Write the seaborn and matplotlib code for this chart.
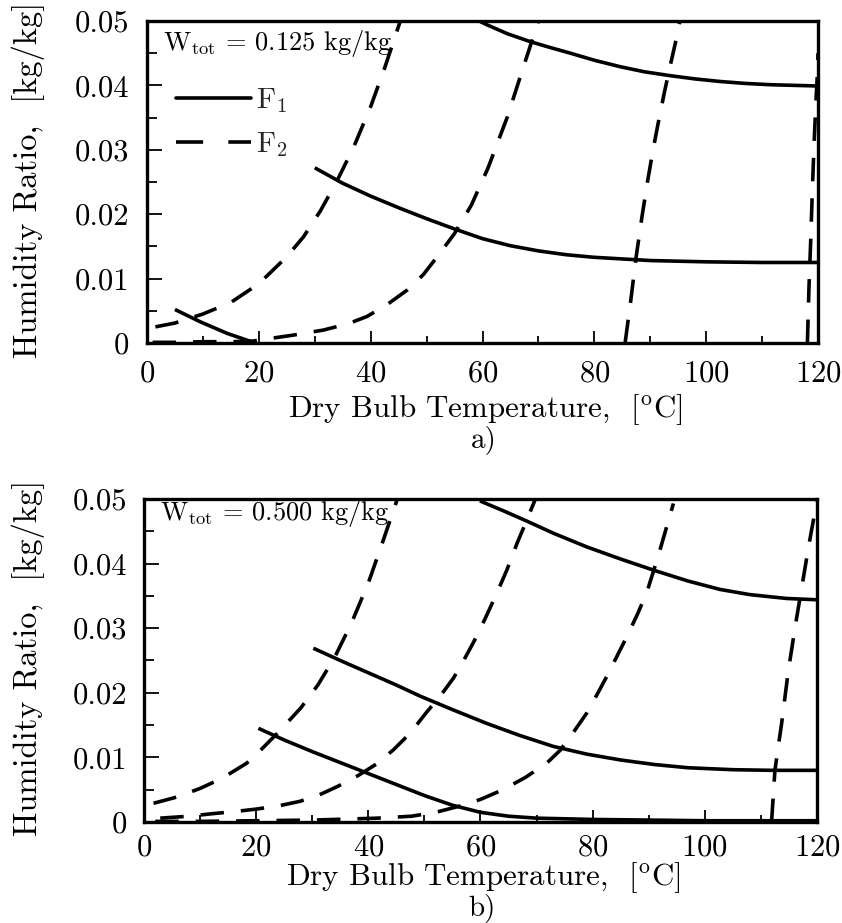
import numpy as np
import pandas as pd
import matplotlib
matplotlib.use("Agg")
import matplotlib.pyplot as plt
from matplotlib.ticker import MultipleLocator, FuncFormatter
from matplotlib.lines import Line2D
import seaborn as sns

# ---------------- data ----------------
# Panel a) W_tot = 0.125 kg/kg
a_f1_1_x = [5, 9.5, 14.3, 19]
a_f1_1_y = [0.0052, 0.0033, 0.0015, 0.0001]
a_f1_2_x = [30, 35, 40, 45, 50, 55, 60, 65, 70, 75, 80, 90, 100, 110, 120]
a_f1_2_y = [0.0272, 0.0248, 0.0228, 0.0210, 0.0193, 0.0177, 0.0162, 0.0151,
            0.0143, 0.0137, 0.0133, 0.0128, 0.0126, 0.0125, 0.0125]
a_f1_3_x = [59.6, 60.8, 64.5, 68.5, 72, 75.7, 80, 84.6, 89, 93.6, 98, 102.5,
            107, 111.5, 120]
a_f1_3_y = [0.0499, 0.0494, 0.0480, 0.0468, 0.0459, 0.0450, 0.0439, 0.0429,
            0.0421, 0.0415, 0.0410, 0.0406, 0.0403, 0.0401, 0.0399]

a_f2_1_x = [1.5, 5, 10, 15, 20, 25, 28, 31, 34, 37, 40, 42.5, 45.3]
a_f2_1_y = [0.0025, 0.0031, 0.0045, 0.0063, 0.0092, 0.0134, 0.0165, 0.0205,
            0.0252, 0.0305, 0.0367, 0.0427, 0.0500]
a_f2_2_x = [1, 5, 10, 15, 19, 22, 26, 31.5, 36, 39.3, 43, 46.5, 49.4, 52, 55,
            58, 61, 64.4, 67, 70]
a_f2_2_y = [0.0001, 0.0001, 0.0002, 0.0002, 0.0003, 0.0007, 0.0012, 0.0020,
            0.0030, 0.0041, 0.0060, 0.0082, 0.0106, 0.0135, 0.0170, 0.0214,
            0.0272, 0.0350, 0.0420, 0.0500]
a_f2_3_x = [85.5, 86.5, 87.5, 88.5, 89.5, 90.5, 91.5, 92.5, 93.5, 94.5, 95.3]
a_f2_3_y = [0.0, 0.0065, 0.0135, 0.0195, 0.0250, 0.0300, 0.0345, 0.0388,
            0.0428, 0.0466, 0.0500]
a_f2_4_x = [118.1, 118.4, 118.7, 119.0, 119.3, 119.6, 119.9, 120.0]
a_f2_4_y = [0.0, 0.009, 0.016, 0.024, 0.031, 0.037, 0.042, 0.045]

# Panel b) W_tot = 0.500 kg/kg
b_f1_1_x = [20.4, 25, 30, 35, 40, 45, 50, 55, 60, 65, 70, 80, 90, 100, 120]
b_f1_1_y = [0.0145, 0.0127, 0.0109, 0.0092, 0.0075, 0.0058, 0.0041, 0.0026,
            0.0015, 0.0009, 0.0006, 0.0004, 0.0003, 0.0002, 0.0002]
b_f1_2_x = [30.2, 35, 40, 45, 49.2, 55, 61, 67, 73, 79, 85, 91, 97, 105, 112,
            120]
b_f1_2_y = [0.0269, 0.0250, 0.0231, 0.0212, 0.0195, 0.0174, 0.0153, 0.0134,
            0.0117, 0.0105, 0.0096, 0.0089, 0.0084, 0.0081, 0.0080, 0.0080]
b_f1_3_x = [59.9, 64, 68.2, 73, 78.9, 85, 90.8, 97, 102.7, 108, 114.6, 120]
b_f1_3_y = [0.0497, 0.0482, 0.0466, 0.0447, 0.0426, 0.0407, 0.0390, 0.0373,
            0.0360, 0.0352, 0.0346, 0.0344]

b_f2_1_x = [1.7, 6, 10, 14, 18.3, 21, 24.3, 28, 31, 34, 37, 40, 42.5, 45.1]
b_f2_1_y = [0.0029, 0.0039, 0.0052, 0.0068, 0.0091, 0.0113, 0.0142, 0.0177,
            0.0212, 0.0255, 0.0308, 0.0370, 0.0432, 0.0498]
b_f2_2_x = [2.9, 8, 12.3, 16, 20, 24, 27.8, 31, 34.5, 38, 41.5, 44.5, 47.4,
            50.4, 53, 55.2, 57, 59.3, 61, 62.9, 64.7, 66.5, 68, 69.7]
b_f2_2_y = [0.0006, 0.0009, 0.0013, 0.0016, 0.0020, 0.0025, 0.0032, 0.0041,
            0.0055, 0.0071, 0.0090, 0.0112, 0.0137, 0.0170, 0.0197, 0.0223,
            0.0250, 0.0287, 0.0318, 0.0354, 0.0390, 0.0431, 0.0462, 0.0498]
b_f2_3_x = [2, 10, 20, 30, 34, 41.6, 47.7, 52, 56.9, 60, 64, 68, 71.8, 74.2,
            76.5, 78.9, 80.7, 82.5, 84.3, 86.1, 87.9, 89.6, 90.8, 92, 93.2, 94.4]
b_f2_3_y = [0.0001, 0.0001, 0.0002, 0.0003, 0.0004, 0.0006, 0.0009, 0.0015,
            0.0026, 0.0035, 0.0050, 0.0069, 0.0091, 0.0111, 0.0138, 0.0168,
            0.0196, 0.0225, 0.0256, 0.0287, 0.0320, 0.0354, 0.0387, 0.0421,
            0.0457, 0.0493]
b_f2_4_x = [111.9, 112.2, 112.5, 113.1, 113.7, 114.3, 114.9, 115.5, 116.1,
            116.7, 117.3, 117.9, 118.5, 119.1, 119.7, 120]
b_f2_4_y = [0.0, 0.004, 0.008, 0.0117, 0.0153, 0.0194, 0.0235, 0.0268, 0.0302,
            0.0333, 0.0364, 0.0395, 0.0426, 0.0455, 0.0483, 0.0497]

x_ticks = [0, 20, 40, 60, 80, 100, 120]
y_ticks = [0, 0.01, 0.02, 0.03, 0.04, 0.05]
panel_notes = ["W$_{\\rm tot}$ = 0.125 kg/kg", "W$_{\\rm tot}$ = 0.500 kg/kg"]
panel_tags = ["a)", "b)"]
legend_labels = ["F$_1$", "F$_2$"]
x_label = "Dry Bulb Temperature,  [$^{\\rm o}$C]"
y_label = "Humidity Ratio,  [kg/kg]"

panels = [
    {"f1": [(a_f1_1_x, a_f1_1_y), (a_f1_2_x, a_f1_2_y), (a_f1_3_x, a_f1_3_y)],
     "f2": [(a_f2_1_x, a_f2_1_y), (a_f2_2_x, a_f2_2_y), (a_f2_3_x, a_f2_3_y),
            (a_f2_4_x, a_f2_4_y)]},
    {"f1": [(b_f1_1_x, b_f1_1_y), (b_f1_2_x, b_f1_2_y), (b_f1_3_x, b_f1_3_y)],
     "f2": [(b_f2_1_x, b_f2_1_y), (b_f2_2_x, b_f2_2_y), (b_f2_3_x, b_f2_3_y),
            (b_f2_4_x, b_f2_4_y)]},
]

# ---------------- style ----------------
sns.set_style("ticks")
plt.rcParams["font.family"] = ["cmr10", "DejaVu Serif"]
plt.rcParams["mathtext.fontset"] = "cm"
plt.rcParams["axes.unicode_minus"] = False
plt.rcParams["axes.formatter.use_mathtext"] = True

LW = 2.6
DASH = (0, (6.5, 4.7))
FS_TICK = 22
FS_XLAB = 22.3
FS_YLAB = 23.4
FS_TAG = 21

fig = plt.figure(figsize=(8.42, 9.23), dpi=100)
ax_pos = [[0.1746, 0.6284, 0.7969, 0.3489], [0.1710, 0.1094, 0.7993, 0.3500]]
# per-panel text placement (axes fractions)
xtick_pad = [12.6, 8.5]
ytick_pad = [13.0, 11.8]
xlab_y = [-0.2298, -0.1965]
tag_y = [-0.326, -0.291]
note_y = [0.910, 0.935]
ylab_x = [-0.152, -0.147]

def yfmt(v, pos):
    if abs(v) < 1e-12:
        return "0"
    return f"{v:.2f}"

for i, p in enumerate(panels):
    ax = fig.add_axes(ax_pos[i])
    for (xs, ys) in p["f1"]:
        df = pd.DataFrame({"T": xs, "W": ys})
        sns.lineplot(data=df, x="T", y="W", ax=ax, color="black", lw=LW,
                     estimator=None, sort=False, solid_capstyle="butt",
                     solid_joinstyle="round")
    for (xs, ys) in p["f2"]:
        df = pd.DataFrame({"T": xs, "W": ys})
        sns.lineplot(data=df, x="T", y="W", ax=ax, color="black", lw=LW,
                     linestyle=DASH, estimator=None, sort=False,
                     dash_capstyle="butt", dash_joinstyle="round")
    ax.set_xlim(0, 120)
    ax.set_ylim(0, 0.05)
    ax.set_xticks(x_ticks)
    ax.set_yticks(y_ticks)
    ax.xaxis.set_minor_locator(MultipleLocator(10))
    ax.yaxis.set_minor_locator(MultipleLocator(0.005))
    ax.yaxis.set_major_formatter(FuncFormatter(yfmt))
    ax.tick_params(axis="x", which="major", direction="in", length=8.5,
                   width=1.3, labelsize=FS_TICK, pad=xtick_pad[i],
                   color="black", labelcolor="black")
    ax.tick_params(axis="x", which="minor", direction="in", length=5,
                   width=1.3, color="black")
    ax.tick_params(axis="y", which="major", direction="in", length=11,
                   width=1.3, labelsize=FS_TICK, pad=ytick_pad[i],
                   color="black", labelcolor="black")
    ax.tick_params(axis="y", which="minor", direction="in", length=7,
                   width=1.3, color="black")
    for s in ax.spines.values():
        s.set_linewidth(2.4)
        s.set_color("black")
    ax.set_xlabel(x_label, fontsize=FS_XLAB, color="black")
    ax.xaxis.set_label_coords(0.504, xlab_y[i])
    ax.xaxis.label.set_va("baseline")
    ax.set_ylabel(y_label, fontsize=FS_YLAB, color="black")
    ax.yaxis.set_label_coords(ylab_x[i], 0.508)
    ax.text(0.502, tag_y[i], panel_tags[i], transform=ax.transAxes,
            ha="center", va="baseline", fontsize=FS_TAG, color="black")
    ax.text(0.024, note_y[i], panel_notes[i], transform=ax.transAxes,
            ha="left", va="baseline", fontsize=19, color="black")
    if i == 0:
        handles = [Line2D([], [], color="black", lw=LW),
                   Line2D([], [], color="black", lw=LW,
                          linestyle=(0, (7.5, 7.0)), dash_capstyle="butt")]
        ax.legend(handles, legend_labels, loc="upper left",
                  bbox_to_anchor=(0.035, 0.815), frameon=False, fontsize=21,
                  handlelength=2.55, handletextpad=0.17, labelspacing=0.5,
                  borderpad=0.2, borderaxespad=0.0)

fig.savefig("out.png", dpi=100)
